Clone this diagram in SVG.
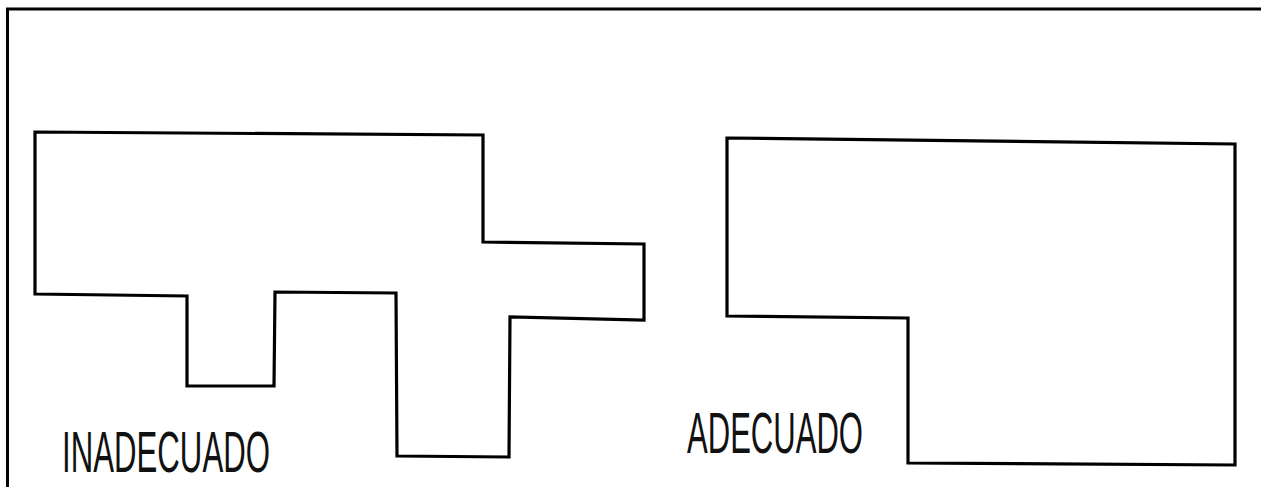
<svg xmlns="http://www.w3.org/2000/svg" width="1261" height="487" viewBox="0 0 1261 487">
<style>
.frame{fill:none;stroke:#000;stroke-width:3}
.plan{fill:none;stroke:#000;stroke-width:3.2;stroke-linejoin:miter}
.lbl{font-family:"Liberation Sans",Arial,sans-serif;font-size:57px;fill:#111}
</style>
<rect width="1261" height="487" fill="#fff"/>
<path class="frame" d="M7.5,487 V9 H1261"/>
<g id="inadecuado">
<path class="plan" d="M35,132 L483,135 L483,242 L644,244 L644,320 L510,317 L509,457 L397,456 L396,293 L275,292 L274,386 L187,386 L187,296 L35,294 Z"/>
<text class="lbl" x="62" y="472" textLength="208" lengthAdjust="spacingAndGlyphs">INADECUADO</text>
</g>
<g id="adecuado">
<path class="plan" d="M727,138 L1235,144 L1235,465 L908,463 L908,318 L727,316 Z"/>
<text class="lbl" x="687" y="453" textLength="176" lengthAdjust="spacingAndGlyphs">ADECUADO</text>
</g>
<g id="connectors"></g>
</svg>
